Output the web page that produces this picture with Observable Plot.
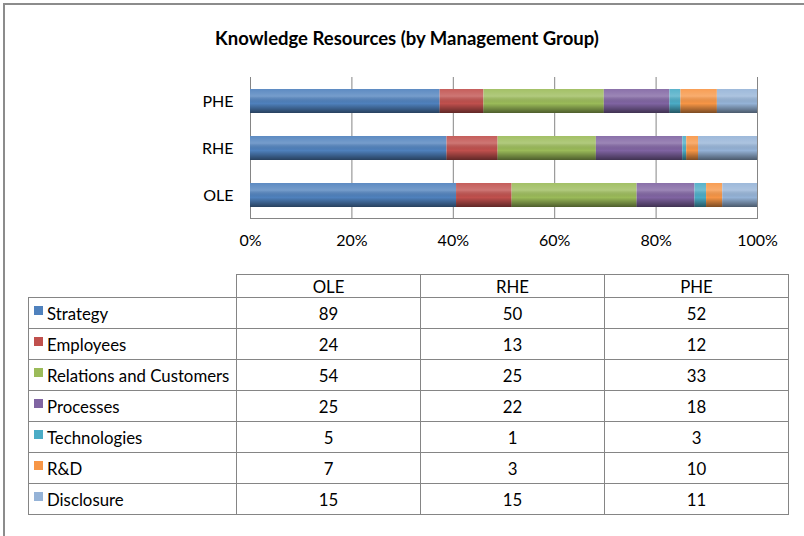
<!DOCTYPE html>
<html>
<head>
<meta charset="utf-8">
<script src="https://cdn.jsdelivr.net/npm/d3@7"></script>
<script src="https://cdn.jsdelivr.net/npm/@observablehq/plot@0.6"></script>
<style>
  html, body { margin: 0; padding: 0; background: #fff; }
  #page { position: relative; width: 804px; height: 536px; overflow: hidden; font-family: Lato, "Liberation Sans", sans-serif; color: #000; }
  #frameTop { position: absolute; left: 3px; top: 3px; width: 801px; height: 2px; background: #8c8c8c; }
  #frameLeft { position: absolute; left: 3px; top: 3px; width: 2px; height: 533px; background: #8c8c8c; }
  #title { position: absolute; left: 0; top: 27px; width: 814px; text-align: center; font-weight: bold; font-size: 18.5px; }
  #chart { position: absolute; left: 0; top: 60px; }
  #tbl { position: absolute; left: 28px; top: 274px; border-collapse: collapse; font-size: 16.8px; }
  #tbl td { border: 1px solid #858585; padding: 0; height: 30px; text-align: center; }
  #tbl tr.head td { height: 22px; }
  #tbl td.lab { text-align: left; width: 208px; white-space: nowrap; padding-left: 5px; box-sizing: border-box; }
  #tbl td.num { width: 183px; }
  #tbl td.blank { border: none; border-bottom: 1px solid #858585; }
  .sw { display: inline-block; width: 9px; height: 9px; margin-right: 4px; vertical-align: 5px; }
</style>
</head>
<body>
<div id="page">
  <div id="frameTop"></div>
  <div id="frameLeft"></div>
  <div id="title">Knowledge Resources (by Management Group)</div>
  <div id="chart"></div>
  <table id="tbl"></table>
</div>
<script>
const groups = ["OLE", "RHE", "PHE"];
const categories = ["Strategy", "Employees", "Relations and Customers", "Processes", "Technologies", "R&D", "Disclosure"];
const oleValues = [89, 24, 54, 25, 5, 7, 15];
const rheValues = [50, 13, 25, 22, 1, 3, 15];
const pheValues = [52, 12, 33, 18, 3, 10, 11];
const colors = ["#4F81BD", "#C0504D", "#9BBB59", "#8064A2", "#4BACC6", "#F79646", "#95B3D7"];
const xTicks = [0, 0.2, 0.4, 0.6, 0.8, 1];
const xTickLabels = ["0%", "20%", "40%", "60%", "80%", "100%"];
const yOrder = ["PHE", "RHE", "OLE"];

const valuesByGroup = {OLE: oleValues, RHE: rheValues, PHE: pheValues};
const rows = [];
for (const g of groups) {
  categories.forEach((c, i) => rows.push({group: g, category: c, value: valuesByGroup[g][i]}));
}

const chart = Plot.plot({
  width: 804,
  height: 200,
  marginLeft: 250,
  marginRight: 47,
  marginTop: 17,
  marginBottom: 42,
  style: {fontFamily: "Lato, 'Liberation Sans', sans-serif", fontSize: "16px", color: "#000", background: "transparent"},
  x: {domain: [0, 1], label: null},
  y: {domain: yOrder, label: null, paddingInner: 0.5, paddingOuter: 0.25},
  color: {domain: categories, range: colors},
  marks: [
    Plot.ruleX(xTicks, {stroke: "#858585", strokeWidth: 1}),
    Plot.frame({anchor: "bottom", stroke: "#858585"}),
    Plot.barX(rows, Plot.stackX({offset: "normalize", x: "value", y: "group", fill: "category", order: null})),
    Plot.barX(groups, {x1: 0, x2: 1, y: d => d, fill: "url(#shade)"}),
    Plot.axisX({ticks: xTicks, tickSize: 0, tickPadding: 16, fontSize: 16, tickFormat: d => xTickLabels[xTicks.indexOf(d)]}),
    Plot.axisY({tickSize: 0, tickPadding: 17, fontSize: 16})
  ]
});

const defs = d3.select(chart).insert("defs", ":first-child");
const grad = defs.append("linearGradient").attr("id", "shade").attr("x1", 0).attr("y1", 0).attr("x2", 0).attr("y2", 1);
grad.append("stop").attr("offset", "0").attr("stop-color", "#fff").attr("stop-opacity", 0.08);
grad.append("stop").attr("offset", "0.3").attr("stop-color", "#fff").attr("stop-opacity", 0.22);
grad.append("stop").attr("offset", "0.6").attr("stop-color", "#000").attr("stop-opacity", 0.0);
grad.append("stop").attr("offset", "1").attr("stop-color", "#000").attr("stop-opacity", 0.5);

document.getElementById("chart").appendChild(chart);

// data table with legend swatches
const tbl = d3.select("#tbl");
const head = tbl.append("tr").attr("class", "head");
head.append("td").attr("class", "blank");
groups.forEach(g => head.append("td").attr("class", "num").text(g));
categories.forEach((c, i) => {
  const tr = tbl.append("tr");
  const lab = tr.append("td").attr("class", "lab");
  lab.append("span").attr("class", "sw").style("background", colors[i]);
  lab.append("span").text(c);
  groups.forEach(g => tr.append("td").attr("class", "num").text(valuesByGroup[g][i]));
});
</script>
</body>
</html>
